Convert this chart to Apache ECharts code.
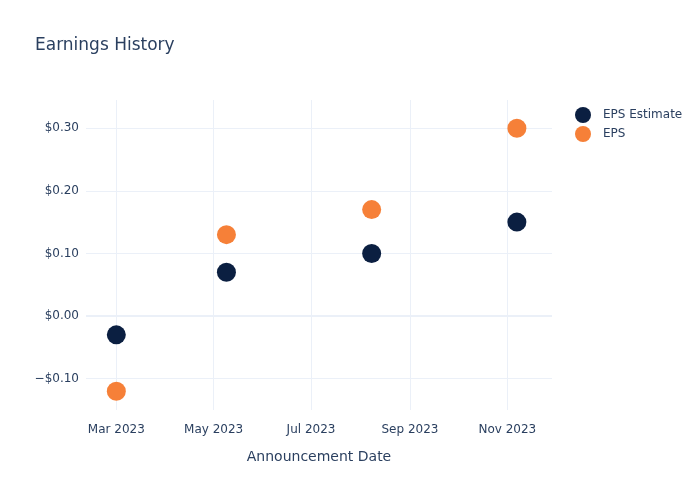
<!DOCTYPE html>
<html>
<head>
<meta charset="utf-8">
<script src="https://cdn.jsdelivr.net/npm/echarts@6/dist/echarts.min.js"></script>
<style>html,body{margin:0;padding:0;background:#fff;}#c{width:700px;height:500px;}</style>
</head>
<body>
<div id="c"></div>
<script>
const dates = ['2023-03-01', '2023-05-09', '2023-08-08', '2023-11-07'];
const epsEstimate = [-0.03, 0.07, 0.10, 0.15];
const eps = [-0.12, 0.13, 0.17, 0.30];
const yTicks = [-0.1, 0, 0.1, 0.2, 0.3];
const xTickDates = ['2023-03-01', '2023-05-01', '2023-07-01', '2023-09-01', '2023-11-01'];
const monthNames = ['Jan','Feb','Mar','Apr','May','Jun','Jul','Aug','Sep','Oct','Nov','Dec'];

const ts = s => { const [y,m,d] = s.split('-').map(Number); return Date.UTC(y, m-1, d); };
const xTicks = xTickDates.map(ts);
const txt = '#2a3f5f';
const font = '"DejaVu Sans", sans-serif';

const chart = echarts.init(document.getElementById('c'), null, {renderer: 'canvas'});
chart.setOption({
  animation: false,
  backgroundColor: '#fff',
  textStyle: {fontFamily: font},
  title: {
    text: 'Earnings History', left: 30, top: 32,
    textStyle: {fontFamily: font, fontSize: 17, fontWeight: 'normal', color: txt}
  },
  legend: {
    orient: 'vertical', left: 570, top: 102, itemGap: 3,
    itemWidth: 16, itemHeight: 16, icon: 'circle',
    textStyle: {fontFamily: font, fontSize: 12, color: txt, padding: [0, 0, 0, 7]},
    data: ['EPS Estimate', 'EPS']
  },
  grid: {left: 86, right: 148, top: 100, bottom: 90, containLabel: false},
  xAxis: {
    type: 'value',
    min: ts('2023-02-10'), max: ts('2023-11-29'),
    name: 'Announcement Date', nameLocation: 'middle', nameGap: 40,
    nameTextStyle: {fontFamily: font, fontSize: 14, color: txt},
    axisLine: {show: false},
    axisTick: {show: false, customValues: xTicks},
    axisLabel: {
      customValues: xTicks, color: txt, fontSize: 12, fontFamily: font, margin: 14,
      formatter: v => { const d = new Date(v); return monthNames[d.getUTCMonth()] + ' ' + d.getUTCFullYear(); }
    },
    splitLine: {show: true, lineStyle: {color: '#EBF0F8', width: 1}}
  },
  yAxis: {
    type: 'value', min: -0.15, max: 0.345,
    axisLine: {show: false},
    axisTick: {show: false, customValues: yTicks},
    axisLabel: {
      customValues: yTicks, color: txt, fontSize: 12, fontFamily: font, margin: 7,
      formatter: v => (v < 0 ? '\u2212$' : '$') + Math.abs(v).toFixed(2)
    },
    splitLine: {show: true, lineStyle: {color: '#EBF0F8', width: 1}}
  },
  series: [
    {
      name: 'EPS Estimate', type: 'scatter', symbolSize: 19,
      itemStyle: {color: '#0b1f41', opacity: 1},
      data: dates.map((d, i) => [ts(d), epsEstimate[i]]),
      markLine: {
        silent: true, symbol: 'none', label: {show: false},
        lineStyle: {color: '#EBF0F8', width: 2, type: 'solid'},
        data: [{yAxis: 0}]
      },
      z: 3
    },
    {
      name: 'EPS', type: 'scatter', symbolSize: 19,
      itemStyle: {color: '#f68038', opacity: 1},
      data: dates.map((d, i) => [ts(d), eps[i]]),
      z: 3
    }
  ]
});
</script>
</body>
</html>
